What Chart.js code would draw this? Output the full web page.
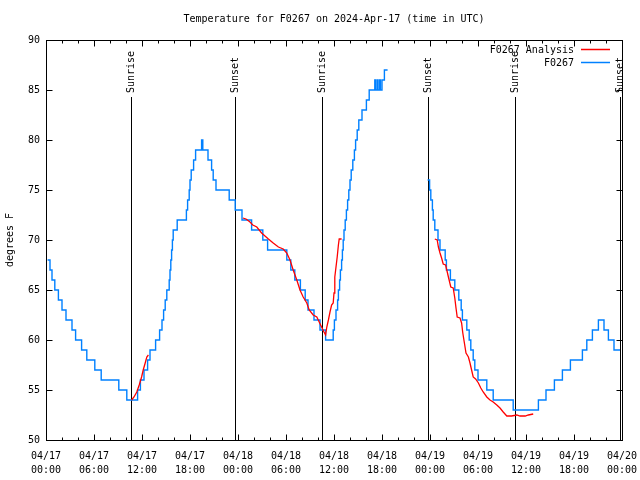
<!DOCTYPE html>
<html>
<head>
<meta charset="utf-8">
<script src="https://cdn.jsdelivr.net/npm/chart.js@4.4.1/dist/chart.umd.min.js"></script>
<style>
  html, body { margin: 0; padding: 0; background: #fff; }
  #wrap { width: 640px; height: 480px; }
</style>
</head>
<body>
<div id="wrap"><canvas id="chart"></canvas></div>
<script>
// hours since 2024-04-17 00:00 UTC
const obsHours = [
  0.2, 0.5, 0.75, 1.1, 1.55, 2.0, 2.5, 3.25, 3.7, 4.45, 5.1, 6.1, 6.9, 9.1, 10.1,
  11.45, 11.8, 12.25, 12.7, 13.0, 13.7, 14.2, 14.5, 14.7, 14.9, 15.1, 15.4, 15.5, 15.6, 15.7, 15.8, 15.9, 16.4,
  17.55, 17.7, 17.9, 18.0, 18.15, 18.45, 18.7, 19.45, 19.6, 20.25, 20.7, 20.9, 21.25, 22.9, 23.65, 24.5,
  25.7, 27.1, 27.7, 30.1, 30.6, 31.1, 31.8, 32.4, 32.75, 33.5, 34.25, 34.95,
  35.9, 36.05, 36.25, 36.45, 36.55, 36.7, 36.8, 36.95, 37.05, 37.15, 37.25, 37.4, 37.55, 37.7, 37.85,
  38.0, 38.15, 38.35, 38.55, 38.7, 38.9, 39.1, 39.5, 40.05, 40.4, 41.1, 41.2, 41.4, 41.5, 41.7, 41.8, 42.0, 42.3, 42.7,
  45.0,
  47.7, 47.95, 48.1, 48.3, 48.4, 48.6, 49.0, 49.25, 49.9, 50.05, 50.55, 51.1, 51.6, 51.9, 52.05, 52.6, 52.9,
  53.1, 53.4, 53.6, 54.0, 55.1, 55.9, 58.4, 61.55, 62.5, 63.55, 64.55, 65.55, 67.05, 67.6, 68.3, 69.05,
  69.75, 70.3, 71.0, 71.75
];
const obsTemps = [
  68, 67, 66, 65, 64, 63, 62, 61, 60, 59, 58, 57, 56, 55, 54,
  55, 56, 57, 58, 59, 60, 61, 62, 63, 64, 65, 66, 67, 68, 69, 70, 71, 72,
  73, 74, 75, 76, 77, 78, 79, 80, 79, 78, 77, 76, 75, 74, 73, 72,
  71, 70, 69, 68, 67, 66, 65, 64, 63, 62, 61, 60,
  61, 62, 63, 64, 65, 66, 67, 68, 69, 70, 71, 72, 73, 74, 75,
  76, 77, 78, 79, 80, 81, 82, 83, 84, 85, 86, 85, 86, 85, 86, 85, 86, 87, 87,
  null,
  76, 75, 74, 73, 72, 71, 70, 69, 68, 67, 66, 65, 64, 63, 62, 61, 60,
  59, 58, 57, 56, 55, 54, 53, 54, 55, 56, 57, 58, 59, 60, 61, 62,
  61, 60, 59, 59
];

const anaHours = [
  10.7, 11.0, 11.35, 11.65, 11.95, 12.15, 12.4, 12.6, 12.8,
  18.0,
  24.6, 25.0, 25.5, 25.85, 26.35, 26.95, 27.8, 28.4, 29.05, 29.65, 30.1, 30.5, 30.9, 31.35, 31.75,
  32.15, 32.6, 32.9, 33.4, 33.85, 34.15, 34.45, 34.75, 34.95, 35.1, 35.3, 35.5, 35.7, 35.9, 36.0,
  36.1, 36.25, 36.4, 36.55, 36.65, 36.95,
  42.0,
  48.6, 48.9, 49.05, 49.25, 49.45, 49.65, 49.95, 50.1, 50.3, 50.6, 50.9, 51.1, 51.25, 51.4, 51.75,
  51.95, 52.1, 52.3, 52.5, 52.8, 53.0, 53.2, 53.4, 53.7, 54.05, 54.35, 54.65, 55.1, 55.5, 55.9,
  56.35, 56.75, 57.15, 57.6, 58.2, 58.85, 59.25, 59.9, 60.3, 60.9
];
const anaTemps = [
  54.0, 54.3, 54.8, 55.5, 56.3, 57.0, 57.7, 58.3, 58.5,
  null,
  72.2, 72.1, 71.8, 71.5, 71.3, 70.7, 70.1, 69.7, 69.3, 69.1, 68.7, 68.0, 67.0, 66.0, 65.0,
  64.3, 63.7, 63.0, 62.5, 62.3, 61.8, 61.3, 60.8, 60.5, 61.3, 62.0, 62.8, 63.5, 63.7, 64.7,
  66.3, 67.3, 68.3, 69.5, 70.1, 70.1,
  null,
  70.1, 70.0, 69.3, 68.7, 68.2, 67.6, 67.5, 67.0, 66.3, 65.3, 65.2, 64.2, 63.2, 62.3, 62.2,
  61.7, 60.7, 59.7, 58.7, 58.3, 57.7, 57.0, 56.3, 56.1, 55.7, 55.2, 54.8, 54.3, 54.0, 53.8,
  53.5, 53.2, 52.8, 52.4, 52.4, 52.5, 52.4, 52.4, 52.5, 52.6
];

const sunHours = [10.62, 23.62, 34.5, 47.75, 58.62, 71.75];
const sunLabels = ['Sunrise', 'Sunset', 'Sunrise', 'Sunset', 'Sunrise', 'Sunset'];

const xTickLabels = [
  ['04/17', '00:00'], ['04/17', '06:00'], ['04/17', '12:00'], ['04/17', '18:00'],
  ['04/18', '00:00'], ['04/18', '06:00'], ['04/18', '12:00'], ['04/18', '18:00'],
  ['04/19', '00:00'], ['04/19', '06:00'], ['04/19', '12:00'], ['04/19', '18:00'],
  ['04/20', '00:00']
];
const yTicks = [50, 55, 60, 65, 70, 75, 80, 85, 90];
const chartTitle = 'Temperature for F0267 on 2024-Apr-17 (time in UTC)';

const FONT = "'DejaVu Sans Mono', 'Liberation Mono', monospace";
const toPoints = (xs, ys) => xs.map((h, i) => ({ x: h, y: ys[i] }));

// title, box, inward ticks, sunrise/sunset markers, gnuplot-ish key
const decor = {
  id: 'decor',
  beforeDatasetsDraw(chart) {
    const { ctx, chartArea: a, scales: { x } } = chart;
    ctx.save();
    ctx.strokeStyle = '#000';
    ctx.fillStyle = '#000';
    ctx.lineWidth = 1;
    ctx.font = '10px ' + FONT;
    ctx.textAlign = 'center';
    ctx.textBaseline = 'middle';
    ctx.fillText(chartTitle, (a.left + a.right) / 2, 19);
    sunHours.forEach((h, i) => {
      const px = Math.round(x.getPixelForValue(h)) + 0.5;
      ctx.beginPath();
      ctx.moveTo(px, 97);
      ctx.lineTo(px, a.bottom);
      ctx.stroke();
      ctx.save();
      ctx.translate(px, 93);
      ctx.rotate(-Math.PI / 2);
      ctx.textAlign = 'left';
      ctx.textBaseline = 'middle';
      ctx.fillText(sunLabels[i], 0, 0);
      ctx.restore();
    });
    ctx.restore();
  },
  afterDatasetsDraw(chart) {
    const { ctx, chartArea: a, scales: { x, y } } = chart;
    ctx.save();
    ctx.strokeStyle = '#000';
    ctx.lineWidth = 1;
    const L = Math.round(a.left) + 0.5, R = Math.round(a.right) + 0.5;
    const T = Math.round(a.top) + 0.5, B = Math.round(a.bottom) + 0.5;
    ctx.strokeRect(L, T, R - L, B - T);
    ctx.beginPath();
    for (let h = 0; h <= 72; h += 2) {
      const px = Math.round(x.getPixelForValue(h)) + 0.5;
      const len = h % 6 === 0 ? 6 : 3;
      ctx.moveTo(px, B); ctx.lineTo(px, B - len);
      ctx.moveTo(px, T); ctx.lineTo(px, T + len);
    }
    yTicks.forEach(v => {
      const py = Math.round(y.getPixelForValue(v)) + 0.5;
      ctx.moveTo(L, py); ctx.lineTo(L + 6, py);
      ctx.moveTo(R, py); ctx.lineTo(R - 6, py);
    });
    ctx.stroke();

    // key
    ctx.font = '10px ' + FONT;
    ctx.textAlign = 'right';
    ctx.textBaseline = 'middle';
    ctx.fillStyle = '#000';
    chart.data.datasets.forEach((ds, i) => {
      const ty = 50 + i * 13;
      ctx.fillText(ds.label, 574, ty);
      ctx.strokeStyle = ds.borderColor;
      ctx.lineWidth = 1.5;
      ctx.beginPath();
      ctx.moveTo(581, ty - 0.5);
      ctx.lineTo(610, ty - 0.5);
      ctx.stroke();
    });
    ctx.restore();
  }
};

new Chart(document.getElementById('chart'), {
  type: 'line',
  data: {
    datasets: [
      {
        label: 'F0267 Analysis',
        data: toPoints(anaHours, anaTemps),
        borderColor: '#ff0000',
        borderWidth: 1.3,
        pointRadius: 0,
        tension: 0,
        spanGaps: false
      },
      {
        label: 'F0267',
        data: toPoints(obsHours, obsTemps),
        borderColor: '#0080ff',
        borderWidth: 1.4,
        pointRadius: 0,
        stepped: 'before',
        spanGaps: false
      }
    ]
  },
  options: {
    responsive: true,
    maintainAspectRatio: false,
    animation: false,
    layout: { padding: { left: 0, right: 18, top: 40, bottom: 0 } },
    plugins: {
      legend: { display: false },
      tooltip: { enabled: false },
      title: { display: false }
    },
    scales: {
      x: {
        type: 'linear',
        min: 0,
        max: 72,
        grid: { display: false, drawTicks: false },
        border: { display: false },
        afterFit(scale) {
          scale.height = 40;
          scale.paddingLeft = 0;
          scale.paddingRight = 0;
        },
        afterBuildTicks(scale) {
          scale.ticks = xTickLabels.map((_, i) => ({ value: i * 6 }));
        },
        ticks: {
          color: '#000',
          font: { family: FONT, size: 10, lineHeight: 1.4 },
          padding: 9,
          maxRotation: 0,
          autoSkip: false,
          callback: (v) => xTickLabels[Math.round(v / 6)]
        }
      },
      y: {
        min: 50,
        max: 90,
        grid: { display: false, drawTicks: false },
        border: { display: false },
        afterFit(scale) {
          scale.width = 46;
          scale.paddingTop = 0;
          scale.paddingBottom = 0;
        },
        afterBuildTicks(scale) {
          scale.ticks = yTicks.map(v => ({ value: v }));
        },
        ticks: {
          color: '#000',
          font: { family: FONT, size: 10 },
          padding: 6
        },
        title: {
          display: true,
          text: 'degrees F',
          color: '#000',
          font: { family: FONT, size: 10 },
          padding: { top: 4, bottom: 0 }
        }
      }
    }
  },
  plugins: [decor]
});
</script>
</body>
</html>
